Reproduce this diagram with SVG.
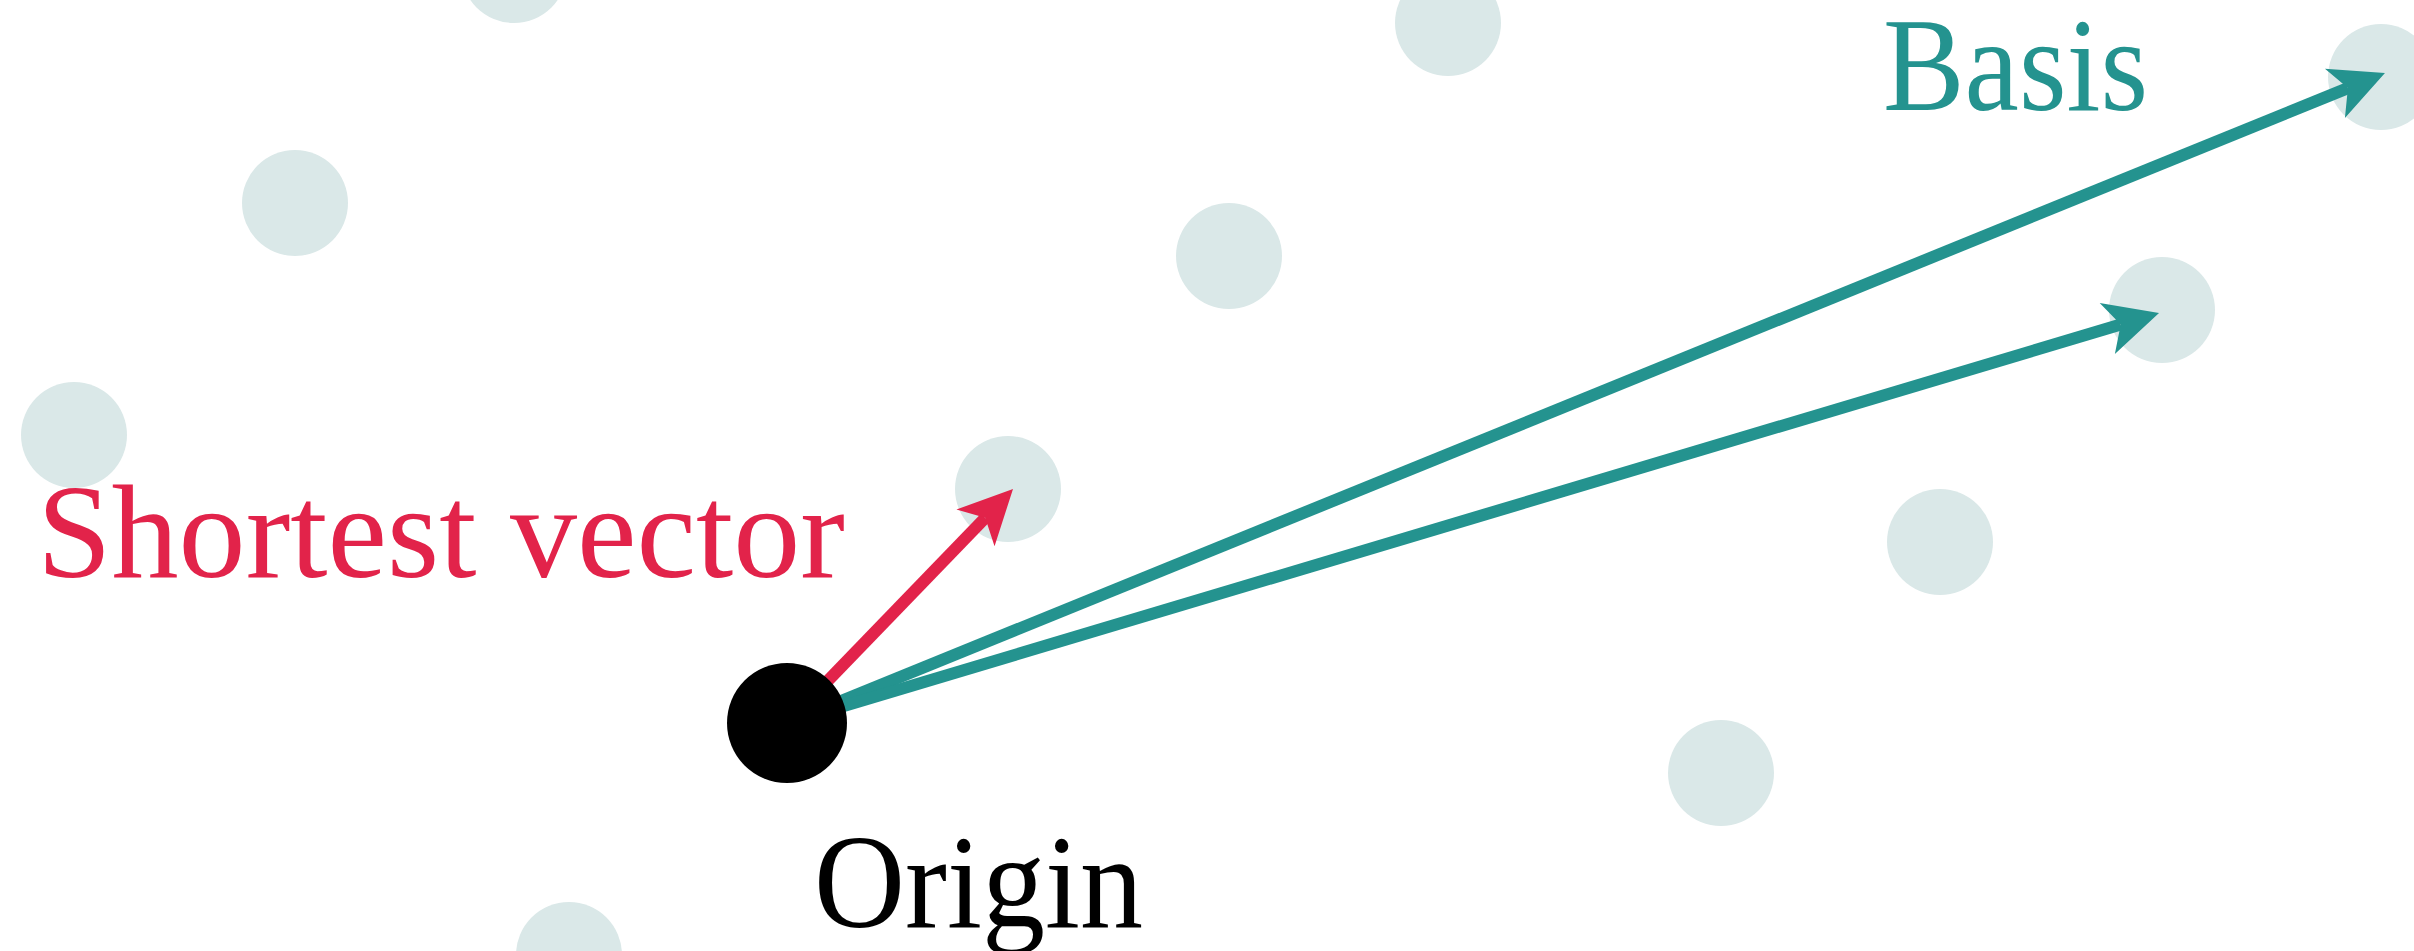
<svg xmlns="http://www.w3.org/2000/svg" width="2414" height="951" viewBox="0 0 2414 951">
  <style>
    .pt { fill: #DAE8E8; }
    .vec { fill: none; stroke-width: 12; stroke-linecap: butt; }
    .red { stroke: #E2234A; }
    .teal { stroke: #24938F; }
    .lbl { font-family: "Liberation Serif", "DejaVu Serif", serif; font-size: 133px; }
  </style>
  <defs>
    <!-- notched arrowhead: notch sits on the line end, tip 40px ahead -->
    <marker id="head-red" markerUnits="userSpaceOnUse" orient="auto" refX="0" refY="0"
            markerWidth="120" markerHeight="120" viewBox="-60 -60 120 120" overflow="visible">
      <path d="M40,0 L-14,-26.5 L0,0 L-14,26.5 Z" fill="#E2234A"/>
    </marker>
    <marker id="head-teal" markerUnits="userSpaceOnUse" orient="auto" refX="0" refY="0"
            markerWidth="120" markerHeight="120" viewBox="-60 -60 120 120" overflow="visible">
      <path d="M40,0 L-14,-26.5 L0,0 L-14,26.5 Z" fill="#24938F"/>
    </marker>
  </defs>

  <rect width="2414" height="951" fill="#ffffff"/>

  <!-- lattice points -->
  <g id="lattice">
    <circle id="p1" class="pt" cx="514" cy="-30" r="53"/>
    <circle id="p2" class="pt" cx="295" cy="203" r="53"/>
    <circle id="p3" class="pt" cx="74" cy="435" r="53"/>
    <circle id="p4" class="pt" cx="1008" cy="489" r="53"/>
    <circle id="p5" class="pt" cx="1229" cy="256" r="53"/>
    <circle id="p6" class="pt" cx="1448" cy="23" r="53"/>
    <circle id="p7" class="pt" cx="569" cy="955" r="53"/>
    <circle id="p8" class="pt" cx="1721" cy="773" r="53"/>
    <circle id="p9" class="pt" cx="1940" cy="542" r="53"/>
    <circle id="p10" class="pt" cx="2162" cy="310" r="53"/>
    <circle id="p11" class="pt" cx="2381" cy="77" r="53"/>
  </g>

  <!-- vectors from the origin -->
  <g id="connectors">
    <line id="shortest" class="vec red" x1="787" y1="723" x2="985.2" y2="517.8" marker-end="url(#head-red)"/>
    <line id="basis1" class="vec teal" x1="787" y1="723" x2="2347.9" y2="88.1" marker-end="url(#head-teal)"/>
    <line id="basis2" class="vec teal" x1="787" y1="723" x2="2120.7" y2="324.5" marker-end="url(#head-teal)"/>
  </g>

  <g id="origin">
    <circle cx="787" cy="723" r="60" fill="#000000"/>
    <g transform="translate(814 927) scale(0.948 1)">
      <text class="lbl" x="0" y="0" fill="#000000">Origin</text>
    </g>
  </g>

  <g id="label-shortest">
    <text class="lbl" x="37" y="577" fill="#E2234A" textLength="808" lengthAdjust="spacingAndGlyphs">Shortest vector</text>
  </g>

  <g id="label-basis">
    <g transform="translate(1883 110) scale(0.92 1)">
      <text class="lbl" x="0" y="0" fill="#24938F">Basis</text>
    </g>
  </g>
</svg>
